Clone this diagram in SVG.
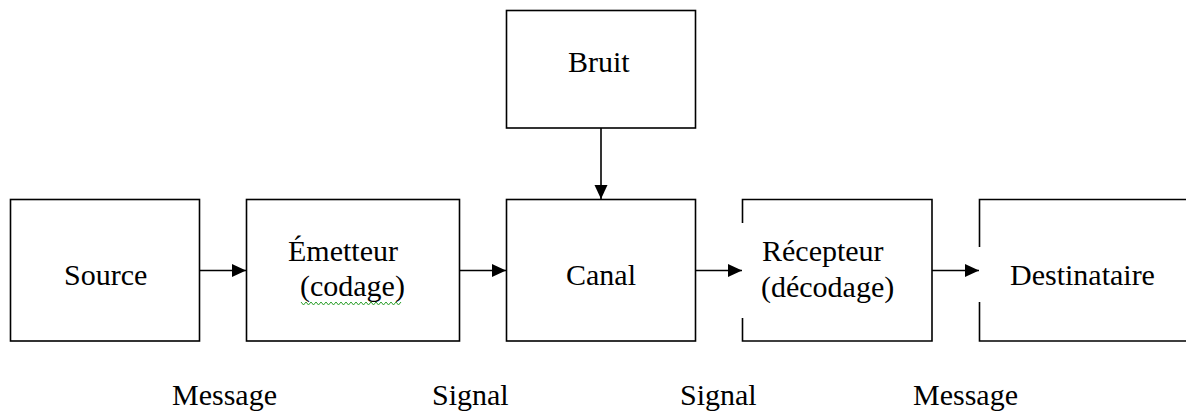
<svg xmlns="http://www.w3.org/2000/svg" width="1186" height="412" viewBox="0 0 1186 412">
  <style>
    .box { fill: none; stroke: #000; stroke-width: 1.6; }
    .lbl { font-family: "Liberation Serif", "Times New Roman", serif; font-size: 30px; fill: #000; }
    .conn { stroke: #000; stroke-width: 1.6; fill: none; }
  </style>
  <defs>
    <marker id="arrow" markerUnits="userSpaceOnUse" markerWidth="15" markerHeight="14" refX="14" refY="7" orient="auto">
      <path d="M0,0.5 L14,7 L0,13.5 z" fill="#000"/>
    </marker>
  </defs>
  <rect width="1186" height="412" fill="#fff"/>

  <g id="source">
    <rect class="box" x="10.5" y="199.5" width="189" height="141.5"/>
    <text class="lbl" x="64" y="285">Source</text>
  </g>

  <g id="emetteur">
    <rect class="box" x="246.5" y="199.5" width="213" height="141.5"/>
    <text class="lbl" x="288" y="261">Émetteur</text>
    <text class="lbl" x="300" y="296">(codage)</text>
    <path d="M301,302 l2.5,3 l2.5,-3 l2.5,3 l2.5,-3 l2.5,3 l2.5,-3 l2.5,3 l2.5,-3 l2.5,3 l2.5,-3 l2.5,3 l2.5,-3 l2.5,3 l2.5,-3 l2.5,3 l2.5,-3 l2.5,3 l2.5,-3 l2.5,3 l2.5,-3 l2.5,3 l2.5,-3 l2.5,3 l2.5,-3 l2.5,3 l2.5,-3 l2.5,3 l2.5,-3 l2.5,3 l2.5,-3 l2.5,3 l2.5,-3 l2.5,3 l2.5,-3 l2.5,3 l2.5,-3 l2.5,3 l2.5,-3 l2.5,3 l2.5,-3" fill="none" stroke="#2ca02c" stroke-width="1"/>
  </g>

  <g id="bruit">
    <rect class="box" x="506.5" y="10.5" width="189" height="117.5"/>
    <text class="lbl" x="568" y="72">Bruit</text>
  </g>

  <g id="canal">
    <rect class="box" x="506.5" y="199.5" width="189" height="141.5"/>
    <text class="lbl" x="566" y="285">Canal</text>
  </g>

  <g id="recepteur">
    <path class="box" d="M742.5,223 L742.5,199.5 L932,199.5 L932,341 L742.5,341 L742.5,318"/>
    <text class="lbl" x="762" y="261">Récepteur</text>
    <text class="lbl" x="761" y="297">(décodage)</text>
  </g>

  <g id="destinataire">
    <path class="box" d="M979.5,247 L979.5,199.5 L1190,199.5 M1190,341 L979.5,341 L979.5,302"/>
    <text class="lbl" x="1010" y="285">Destinataire</text>
  </g>

  <g id="connectors">
    <line class="conn" x1="199.5" y1="270.5" x2="246" y2="270.5" marker-end="url(#arrow)"/>
    <line class="conn" x1="459.5" y1="270.5" x2="506" y2="270.5" marker-end="url(#arrow)"/>
    <line class="conn" x1="695.5" y1="270.5" x2="742" y2="270.5" marker-end="url(#arrow)"/>
    <line class="conn" x1="932" y1="270.5" x2="979" y2="270.5" marker-end="url(#arrow)"/>
    <line class="conn" x1="601" y1="128" x2="601" y2="199" marker-end="url(#arrow)"/>
  </g>

  <g id="labels">
    <text class="lbl" x="172" y="405">Message</text>
    <text class="lbl" x="432" y="405">Signal</text>
    <text class="lbl" x="680" y="405">Signal</text>
    <text class="lbl" x="913" y="405">Message</text>
  </g>
</svg>
